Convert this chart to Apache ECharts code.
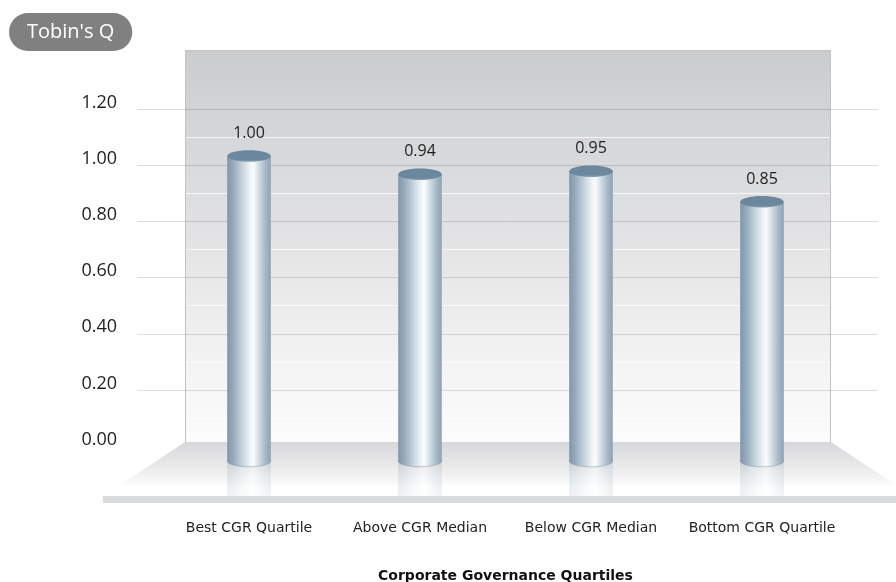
<!DOCTYPE html>
<html>
<head>
<meta charset="utf-8">
<script src="https://cdn.jsdelivr.net/npm/echarts@6/dist/echarts.min.js"></script>
<style>
  html, body { margin: 0; padding: 0; background: #fff; }
  #chart { width: 896px; height: 582px; }
</style>
</head>
<body>
<div id="chart"></div>
<script>
// Tobin's Q by corporate governance quartile
const categories = ['Best CGR Quartile', 'Above CGR Median', 'Below CGR Median', 'Bottom CGR Quartile'];
const tobinsQ = [1.00, 0.94, 0.95, 0.85];
const yTickLabels = ['0.00', '0.20', '0.40', '0.60', '0.80', '1.00', '1.20'];
const yAxisTitle = "Tobin's Q";
const xAxisTitle = 'Corporate Governance Quartiles';

const chart = echarts.init(document.getElementById('chart'), null, { renderer: 'canvas' });

// steel-blue cylinder shading, left to right
const bodyStops = [
  { offset: 0.00, color: '#7f96aa' },
  { offset: 0.15, color: '#98acbc' },
  { offset: 0.35, color: '#c7d4de' },
  { offset: 0.52, color: '#eef3f6' },
  { offset: 0.60, color: '#fafcfd' },
  { offset: 0.72, color: '#d4dee6' },
  { offset: 0.87, color: '#a9bac7' },
  { offset: 1.00, color: '#8ca2b4' }
];

function renderCylinder(params, api) {
  const i = api.value(0);
  const v = api.value(1);
  const top = api.coord([i, v]);
  const base = api.coord([i, 0]);
  const w = api.size([1, 0])[0] * 0.255;
  const rx = w / 2;
  const ry = 5.8;
  const x = top[0] - rx;
  const grad = () => new echarts.graphic.LinearGradient(0, 0, 1, 0, bodyStops);
  return {
    type: 'group',
    children: [
      // reflection on the floor
      {
        type: 'rect',
        shape: { x: x, y: base[1], width: w, height: 35 },
        style: { fill: grad(), opacity: 0.28 }
      },
      {
        type: 'rect',
        shape: { x: x, y: base[1], width: w, height: 35 },
        style: {
          fill: new echarts.graphic.LinearGradient(0, 0, 0, 1, [
            { offset: 0, color: 'rgba(255,255,255,0)' },
            { offset: 1, color: 'rgba(255,255,255,0.55)' }
          ])
        }
      },
      // rounded bottom
      {
        type: 'ellipse',
        shape: { cx: top[0], cy: base[1], rx: rx, ry: ry },
        style: { fill: grad(), stroke: 'rgba(130,140,150,0.45)', lineWidth: 1 }
      },
      // body
      {
        type: 'rect',
        shape: { x: x, y: top[1], width: w, height: base[1] - top[1] },
        style: { fill: grad() }
      },
      // lid
      {
        type: 'ellipse',
        shape: { cx: top[0], cy: top[1], rx: rx, ry: ry },
        style: {
          fill: new echarts.graphic.LinearGradient(0, 0, 0, 1, [
            { offset: 0, color: '#6a879d' },
            { offset: 0.8, color: '#6b889e' },
            { offset: 1, color: '#8aa1b3' }
          ])
        }
      },
      // value label
      {
        type: 'text',
        x: top[0],
        y: top[1] - 22.5,
        style: {
          text: v.toFixed(2),
          fill: '#1e1e1e',
          fontSize: 16,
          fontFamily: 'Open Sans',
          align: 'center',
          verticalAlign: 'middle'
        }
      }
    ]
  };
}

// back wall, floor and front edge
const wallGradient = new echarts.graphic.LinearGradient(0, 0, 0, 1, [
  { offset: 0.00, color: '#cbccce' },
  { offset: 0.30, color: '#d9dadc' },
  { offset: 0.60, color: '#e9e9ea' },
  { offset: 0.85, color: '#f6f6f6' },
  { offset: 1.00, color: '#fcfcfc' }
]);
const floorGradient = new echarts.graphic.LinearGradient(0, 0, 0, 1, [
  { offset: 0.00, color: '#d6d7d9' },
  { offset: 0.55, color: '#e9e9ea' },
  { offset: 1.00, color: '#fbfbfb' }
]);

const option = {
  backgroundColor: '#ffffff',
  animation: false,
  title: {
    text: yAxisTitle,
    left: 9,
    top: 13,
    padding: [8, 18, 8, 18],
    backgroundColor: '#808080',
    borderRadius: 19,
    textStyle: {
      color: '#ffffff',
      fontSize: 20,
      fontWeight: 'normal',
      fontFamily: 'Open Sans',
      lineHeight: 22
    }
  },
  graphic: {
    elements: [
      {
        type: 'rect',
        shape: { x: 185.5, y: 50.5, width: 645, height: 392 },
        style: { fill: wallGradient, stroke: '#c3c3c3', lineWidth: 1 }
      },
      {
        type: 'polygon',
        shape: { points: [[185, 442], [831, 442], [896, 485], [120, 485]] },
        style: { fill: floorGradient }
      },
      {
        type: 'rect',
        shape: { x: 103, y: 496, width: 793, height: 7 },
        style: { fill: '#d9dadb' }
      }
    ]
  },
  grid: [
    // gridline / tick-label grid
    { left: 137, right: 18, top: 108.9, bottom: 135.7, outerBoundsMode: 'none' },
    // wall grid (half-step lines)
    { left: 186, right: 66, top: 108.9, bottom: 135.7, outerBoundsMode: 'none' },
    // cylinder grid
    { left: 163.5, right: 48.5, top: 95, bottom: 121, outerBoundsMode: 'none' }
  ],
  xAxis: [
    { gridIndex: 0, type: 'value', show: false },
    { gridIndex: 1, type: 'value', show: false },
    {
      gridIndex: 2,
      type: 'category',
      data: categories,
      axisLine: { show: false },
      axisTick: { show: false },
      axisLabel: {
        interval: 0,
        margin: 60,
        color: '#222222',
        fontSize: 14,
        fontFamily: 'DejaVu Sans'
      },
      name: xAxisTitle,
      nameLocation: 'middle',
      nameGap: 108,
      nameTextStyle: {
        color: '#111111',
        fontSize: 14,
        fontWeight: 'bold',
        fontFamily: 'DejaVu Sans'
      }
    }
  ],
  yAxis: [
    {
      gridIndex: 0,
      type: 'value',
      min: 0,
      max: 1.2,
      interval: 0.2,
      z: 1,
      axisLine: { show: false },
      axisTick: { show: false },
      axisLabel: {
        margin: 20,
        color: '#1e1e1e',
        fontSize: 18,
        fontFamily: 'Open Sans',
        verticalAlign: 'bottom',
        lineHeight: 13,
        formatter: (val, idx) => yTickLabels[idx]
      },
      splitLine: {
        show: true,
        showMinLine: false,
        lineStyle: { color: 'rgba(0,0,0,0.13)', width: 1 }
      }
    },
    {
      gridIndex: 1,
      type: 'value',
      min: 0,
      max: 1.2,
      interval: 0.2,
      z: 1,
      axisLine: { show: false },
      axisTick: { show: false },
      axisLabel: { show: false },
      splitLine: { show: false },
      minorTick: { show: false, splitNumber: 2 },
      minorSplitLine: { show: true, lineStyle: { color: 'rgba(255,255,255,0.75)', width: 1 } }
    },
    { gridIndex: 2, type: 'value', min: 0, max: 1.2, show: false }
  ],
  series: [
    {
      type: 'custom',
      name: yAxisTitle,
      xAxisIndex: 2,
      yAxisIndex: 2,
      z: 3,
      clip: false,
      renderItem: renderCylinder,
      encode: { x: 0, y: 1 },
      data: tobinsQ.map((v, i) => [i, v])
    }
  ]
};

chart.setOption(option);
</script>
</body>
</html>
